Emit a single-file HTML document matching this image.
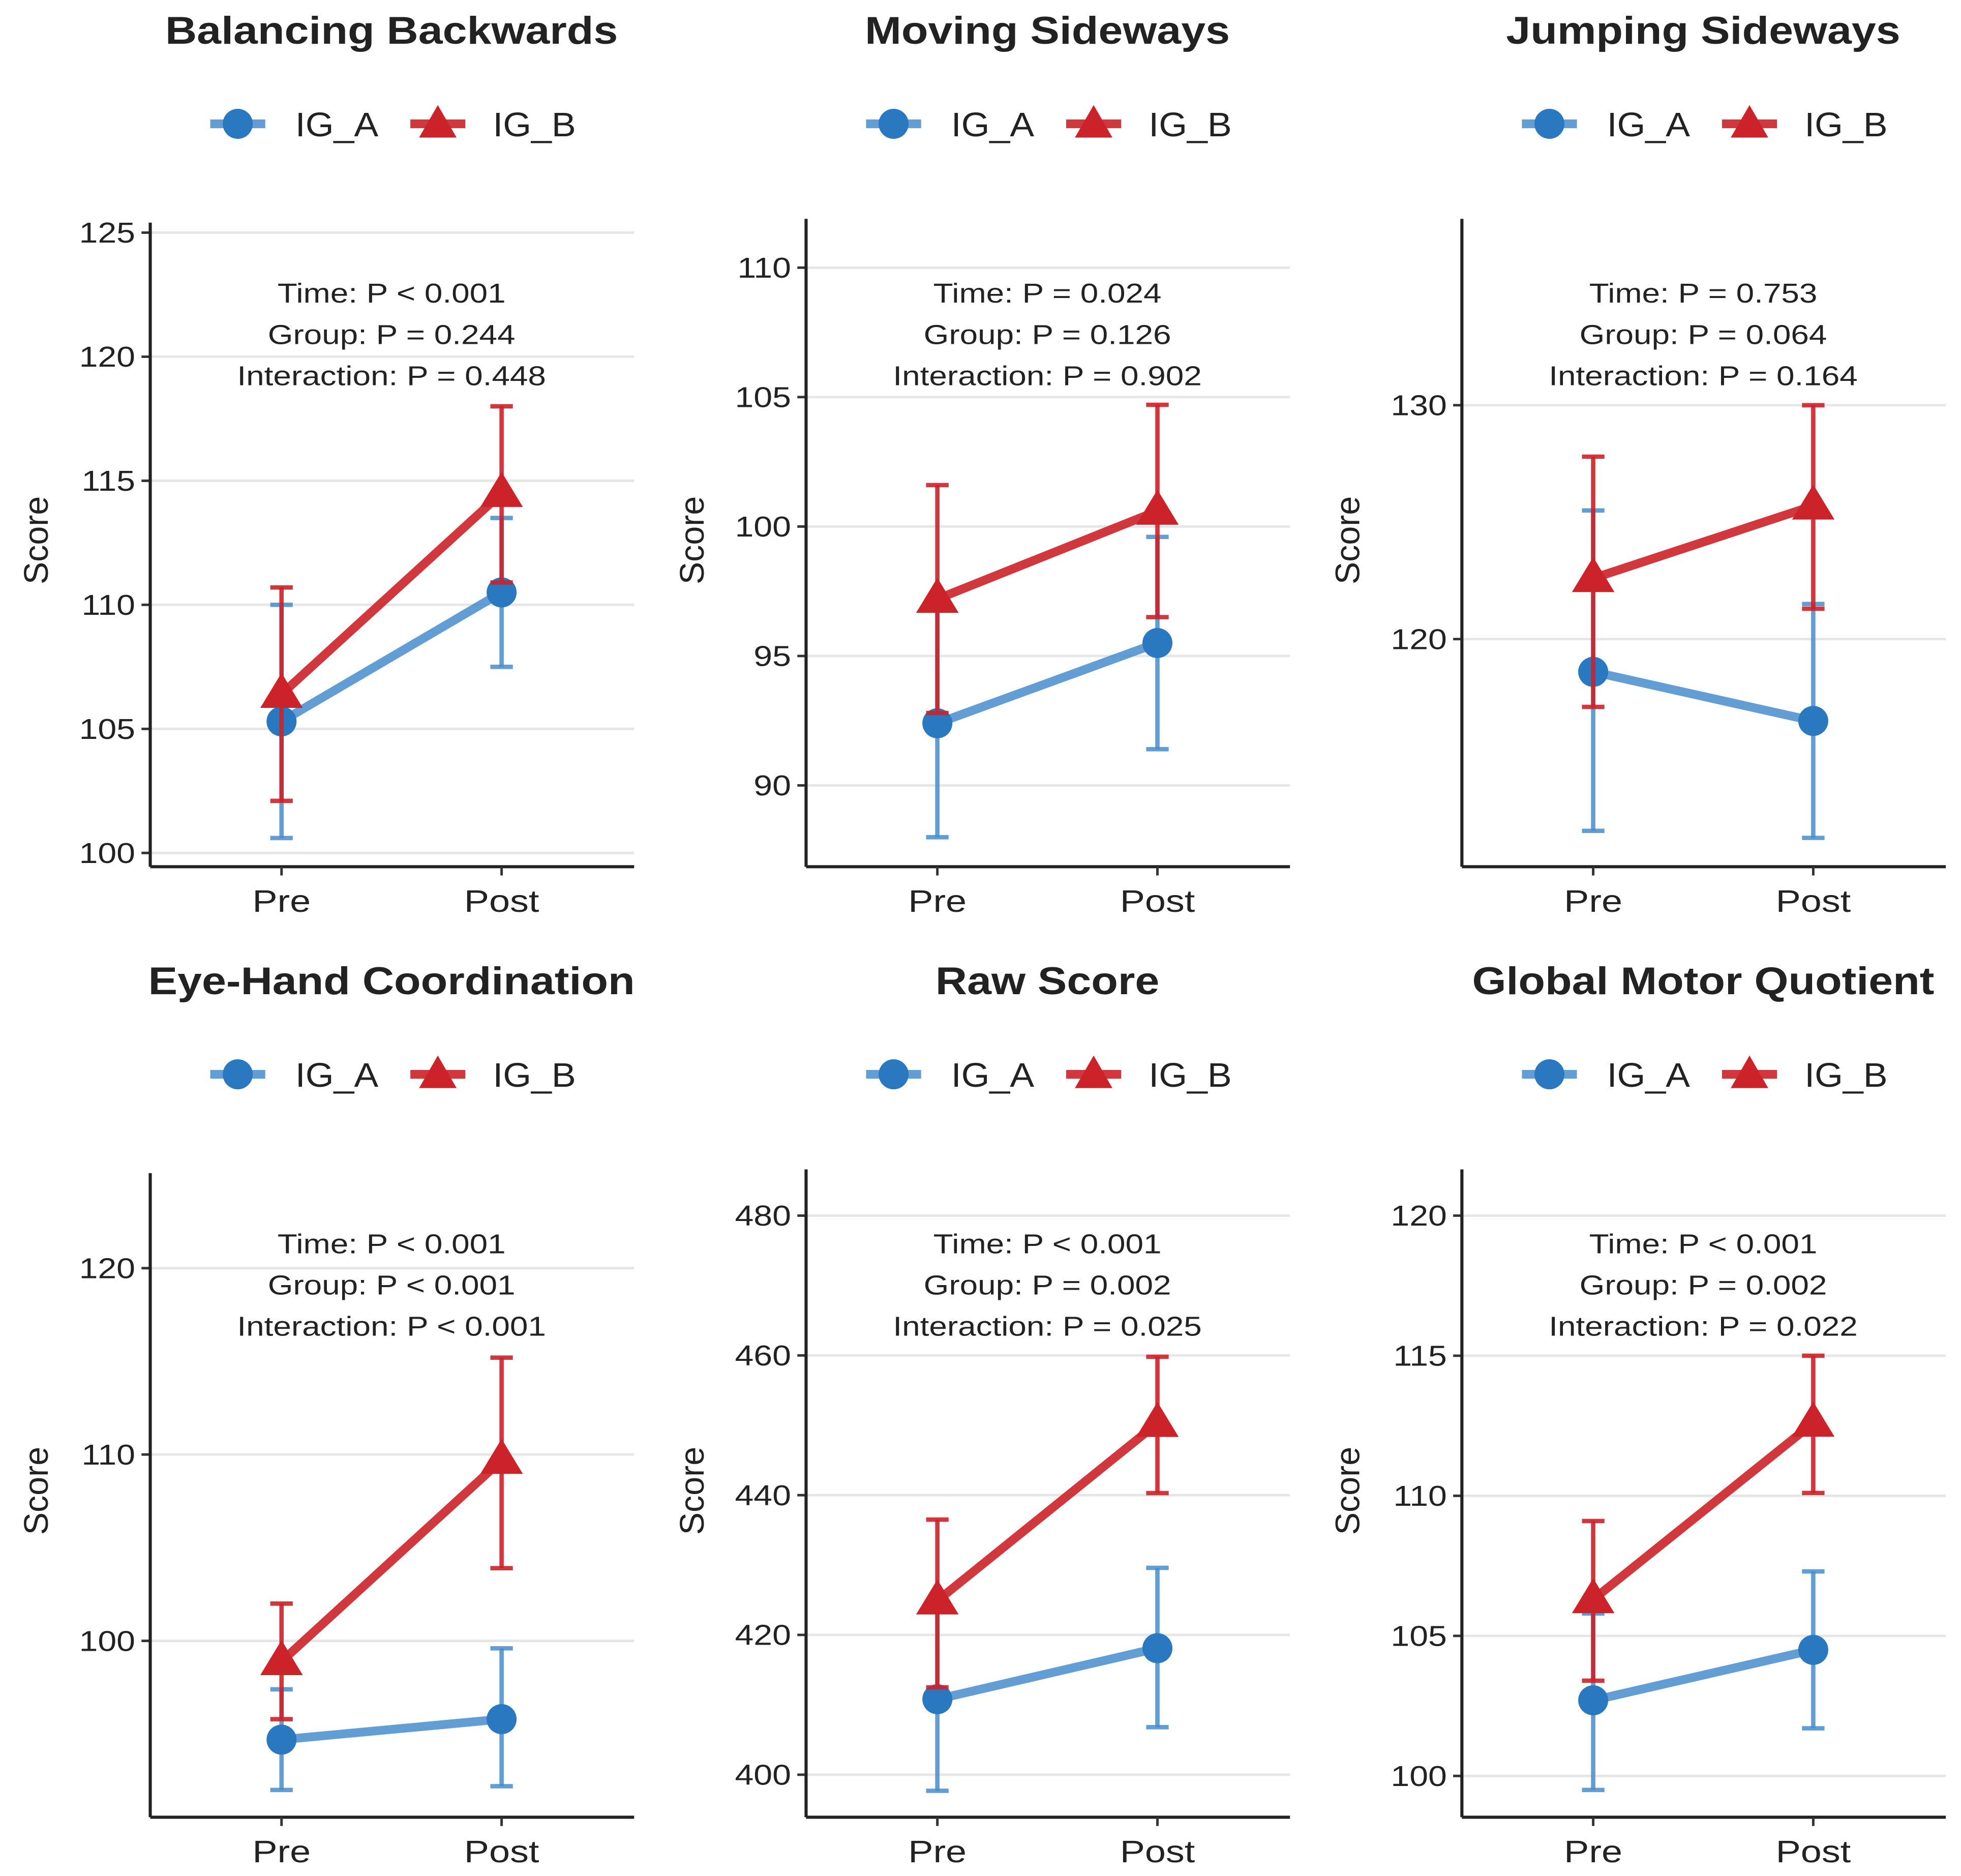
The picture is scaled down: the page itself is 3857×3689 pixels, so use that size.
<!DOCTYPE html>
<html><head><meta charset="utf-8"><style>
html,body{margin:0;padding:0;background:#fff}
svg{display:block}
text{font-family:"Liberation Sans",sans-serif;fill:#222}
</style></head><body>
<svg id="chart" width="3857" height="3689" viewBox="0 0 1568 1500" xmlns="http://www.w3.org/2000/svg"></svg>
<script>
const titles=["Balancing Backwards","Moving Sideways","Jumping Sideways","Eye-Hand Coordination","Raw Score","Global Motor Quotient"];
const annotations=[
["Time: P < 0.001","Group: P = 0.244","Interaction: P = 0.448"],
["Time: P = 0.024","Group: P = 0.126","Interaction: P = 0.902"],
["Time: P = 0.753","Group: P = 0.064","Interaction: P = 0.164"],
["Time: P < 0.001","Group: P < 0.001","Interaction: P < 0.001"],
["Time: P < 0.001","Group: P = 0.002","Interaction: P = 0.025"],
["Time: P < 0.001","Group: P = 0.002","Interaction: P = 0.022"]];
const categories=["Pre","Post"];
const igA=[[105.3,110.5],[92.4,95.5],[118.6,116.5],[94.7,95.8],[410.8,418.1],[102.7,104.5]];
const igALow=[[100.6,107.5],[88.0,91.4],[111.8,111.5],[92.0,92.2],[397.7,406.8],[99.5,101.7]];
const igAHigh=[[110.0,113.5],[96.8,99.6],[125.5,121.5],[97.4,99.6],[424.2,429.6],[105.8,107.3]];
const igB=[[106.4,114.5],[97.2,100.6],[122.6,125.7],[98.9,109.7],[424.9,450.3],[106.3,112.6]];
const igBLow=[[102.1,110.9],[92.8,96.5],[117.1,121.3],[95.8,103.9],[412.5,440.3],[103.4,110.1]];
const igBHigh=[[110.7,118.0],[101.6,104.7],[127.8,130.0],[102.0,115.2],[436.5,459.8],[109.1,115.0]];
const tickLabels=[[100,105,110,115,120,125],[90,95,100,105,110],[120,130],[100,110,120],[400,420,440,460,480],[100,105,110,115,120]];
const calib=[[[125,186],[100,682]],[[110,214],[90,628]],[[130,324],[120,511]],[[120,1014],[100,1312]],[[480,972],[400,1419]],[[120,972],[100,1420]]];

const svg=document.getElementById('chart');
const NS="http://www.w3.org/2000/svg";
function mk(tag,attrs,parent){const e=document.createElementNS(NS,tag);for(const k in attrs)e.setAttribute(k,attrs[k]);(parent||svg).appendChild(e);return e;}
function widen(e,k){const w=e.getComputedTextLength();if(w>0){e.setAttribute('textLength',w*k);e.setAttribute('lengthAdjust','spacingAndGlyphs');}}
const BLUE="#2a78bf",BLUEL="rgba(70,140,205,0.85)",RED="#cc2229",REDL="rgba(204,34,41,0.9)";

for(let p=0;p<6;p++){
  const col=p%3,row=Math.floor(p/3);
  const ox=col*524.5, oy=row*760;
  const axL=120+ox, axR=507+ox, axB=693+oy, axT=(col===0?178:175)+oy;
  const [[v1,y1],[v2,y2]]=calib[p];
  const ys=v=>y1+(v-v1)*(y2-y1)/(v2-v1);
  const xs=i=>(i===0?225:401)+ox;
  const g=mk('g',{});
  
  
  const t=mk('text',{x:313+ox,y:35+oy,'text-anchor':'middle','font-size':31,'font-weight':'bold'},g);
  t.textContent=titles[p];
  
  
  widen(t,1.13);
  const lg=mk('g',{},g);
  
  
  mk('line',{x1:168+ox,x2:212+ox,y1:99+oy,y2:99+oy,stroke:BLUEL,'stroke-width':7},lg);
  mk('circle',{cx:190+ox,cy:99+oy,r:12,fill:BLUE},lg);
  const la=mk('text',{x:236+ox,y:109+oy,'font-size':27},lg);la.textContent="IG_A";
  
  
  widen(la,1.08);
  mk('line',{x1:328+ox,x2:372+ox,y1:99+oy,y2:99+oy,stroke:REDL,'stroke-width':7},lg);
  mk('polygon',{points:`${350+ox},${84+oy} ${365+ox},${110+oy} ${335+ox},${110+oy}`,fill:RED},lg);
  const lb=mk('text',{x:394+ox,y:109+oy,'font-size':27},lg);lb.textContent="IG_B";
  
  
  widen(lb,1.08);
  tickLabels[p].forEach(v=>{
    const y=ys(v);
    mk('line',{x1:axL,x2:axR,y1:y,y2:y,stroke:'#e6e6e6','stroke-width':2},g);
    mk('line',{x1:axL-7,x2:axL,y1:y,y2:y,stroke:'#333','stroke-width':2},g);
    const tl=mk('text',{x:axL-12,y:y+8,'text-anchor':'end','font-size':23},g);
    tl.textContent=v;
    
    
    widen(tl,1.17);
  });
  mk('line',{x1:axL,x2:axL,y1:axT,y2:axB,stroke:'#222','stroke-width':2.5},g);
  mk('line',{x1:axL,x2:axR,y1:axB,y2:axB,stroke:'#222','stroke-width':2.5},g);
  categories.forEach((c,i)=>{
    mk('line',{x1:xs(i),x2:xs(i),y1:axB,y2:axB+7,stroke:'#333','stroke-width':2},g);
    const xl=mk('text',{x:xs(i),y:729+oy,'text-anchor':'middle','font-size':25},g);
    xl.textContent=c;
    
    
    widen(xl,1.2);
  });
  const yt=mk('text',{x:0,y:0,'text-anchor':'middle','font-size':27,transform:`translate(${38+ox},${432+oy}) rotate(-90)`},g);
  yt.textContent="Score";
  
  
  annotations[p].forEach((s,k)=>{
    const a=mk('text',{x:313+ox,y:242+k*33+oy,'text-anchor':'middle','font-size':22},g);
    a.textContent=s;
    
    
    widen(a,1.18);
  });
  const series=[[igA,igALow,igAHigh,BLUE,BLUEL,'circle','ig-a'],[igB,igBLow,igBHigh,RED,REDL,'tri','ig-b']];
  series.forEach(([m,lo,hi,c,cl,shape,nm])=>{
    categories.forEach((_,i)=>{
      const x=xs(i);
      mk('line',{x1:x,x2:x,y1:ys(lo[p][i]),y2:ys(hi[p][i]),stroke:cl,'stroke-width':3.5},g);
      mk('line',{x1:x-9,x2:x+9,y1:ys(lo[p][i]),y2:ys(lo[p][i]),stroke:cl,'stroke-width':3.5},g);
      mk('line',{x1:x-9,x2:x+9,y1:ys(hi[p][i]),y2:ys(hi[p][i]),stroke:cl,'stroke-width':3.5},g);
    });
    const ln=mk('line',{x1:xs(0),y1:ys(m[p][0]),x2:xs(1),y2:ys(m[p][1]),stroke:cl,'stroke-width':7},g);
    
    
    categories.forEach((_,i)=>{
      const x=xs(i),y=ys(m[p][i]);
      let e;
      if(shape==='circle') e=mk('circle',{cx:x,cy:y,r:12,fill:c},g);
      else e=mk('polygon',{points:`${x},${y-17} ${x+17},${y+11} ${x-17},${y+11}`,fill:c},g);
      
      
    });
  });
}
</script>
</body></html>
